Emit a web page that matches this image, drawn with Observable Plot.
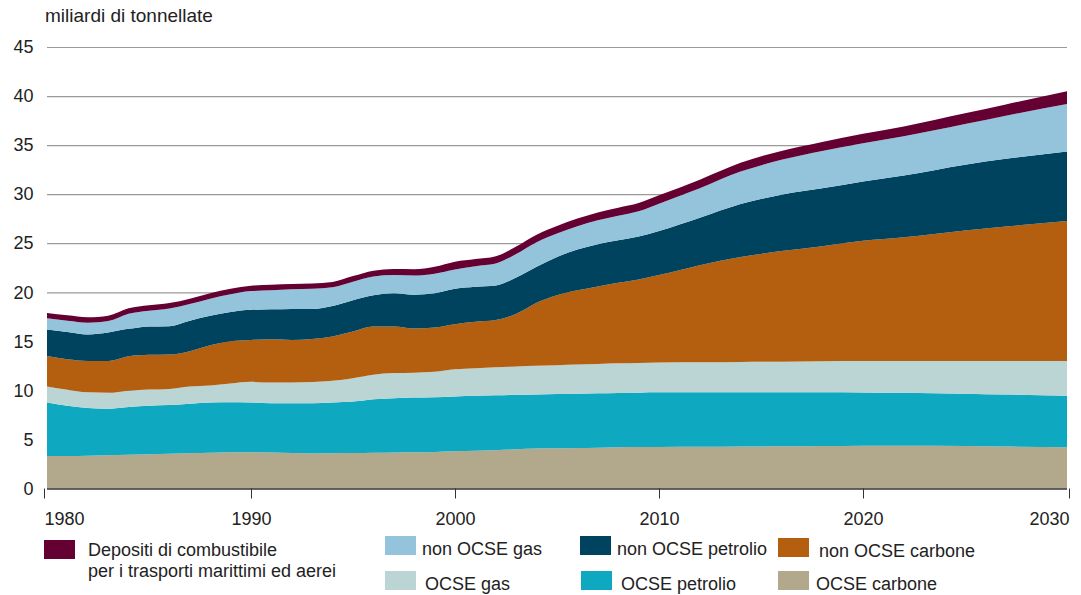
<!DOCTYPE html>
<html>
<head>
<meta charset="utf-8">
<script src="https://cdn.jsdelivr.net/npm/d3@7"></script>
<script src="https://cdn.jsdelivr.net/npm/@observablehq/plot@0.6"></script>
<style>
  html, body { margin: 0; padding: 0; background: #fff; }
  #wrap { position: relative; width: 1081px; height: 595px; overflow: hidden; font-family: "Liberation Sans", Arial, sans-serif; color: #222; }
  #title { position: absolute; left: 45px; top: 5px; font-size: 19px; line-height: 22px; white-space: nowrap; }
  #chart { position: absolute; left: 0; top: 0; }
  .sw { position: absolute; width: 31px; height: 19px; }
  .lt { position: absolute; font-size: 18px; line-height: 20.5px; white-space: nowrap; }
</style>
</head>
<body>
<div id="wrap">
  <div id="chart"></div>
  <div id="title">miliardi di tonnellate</div>
  <div id="legend"></div>
</div>
<script>
// ---- Data (miliardi di tonnellate) ----
const years = [1980,1981,1982,1983,1984,1985,1986,1987,1988,1989,
               1990,1991,1992,1993,1994,1995,1996,1997,1998,1999,
               2000,2001,2002,2003,2004,2005,2006,2007,2008,2009,
               2010,2012,2014,2016,2018,2020,2022,2025,2027,2030];

const ocseCarbone = [3.3,3.3,3.35,3.4,3.45,3.5,3.55,3.6,3.65,3.7,
                     3.7,3.68,3.62,3.58,3.6,3.62,3.65,3.68,3.7,3.73,
                     3.8,3.85,3.9,4.0,4.08,4.1,4.13,4.16,4.2,4.22,
                     4.24,4.25,4.28,4.3,4.33,4.37,4.37,4.33,4.28,4.2];

const ocsePetrolio = [5.47,5.13,4.85,4.73,4.85,4.93,4.95,5.04,5.12,5.1,
                      5.07,5.02,5.08,5.12,5.17,5.25,5.45,5.52,5.57,5.57,
                      5.58,5.6,5.6,5.55,5.51,5.52,5.52,5.54,5.54,5.55,
                      5.56,5.55,5.52,5.5,5.47,5.42,5.38,5.32,5.29,5.25];

const ocseGas = [1.63,1.63,1.6,1.62,1.67,1.65,1.65,1.76,1.73,1.9,
                 2.1,2.1,2.1,2.15,2.2,2.38,2.5,2.56,2.53,2.6,
                 2.77,2.81,2.86,2.88,2.91,2.94,2.98,3.0,3.02,3.03,
                 3.04,3.07,3.1,3.13,3.17,3.21,3.25,3.35,3.43,3.55];

const nonOcseCarbone = [3.1,3.12,3.2,3.25,3.5,3.54,3.5,3.6,4.1,4.3,
                        4.27,4.4,4.34,4.4,4.53,4.75,4.9,4.74,4.5,4.5,
                        4.6,4.74,4.81,5.37,6.43,7.14,7.57,7.9,8.21,8.5,
                        8.91,9.89,10.7,11.27,11.73,12.24,12.6,13.3,13.7,14.27];

const nonOcsePetrolio = [2.7,2.77,2.7,2.9,2.8,2.9,2.9,3.1,3.0,3.0,
                         3.08,3.06,3.16,3.05,3.1,3.2,3.2,3.4,3.45,3.5,
                         3.6,3.56,3.53,3.7,3.67,3.9,4.16,4.3,4.33,4.38,
                         4.5,4.84,5.4,5.75,5.9,6.06,6.3,6.7,6.9,7.08];

const nonOcseGas = [1.15,1.15,1.2,1.17,1.55,1.6,1.8,1.7,1.75,1.8,
                    1.9,1.94,2.0,2.05,1.9,1.87,1.9,1.85,1.95,2.0,
                    1.98,2.1,2.23,2.4,2.5,2.38,2.37,2.44,2.5,2.57,
                    2.78,3.0,3.3,3.55,3.8,3.9,4.0,4.15,4.4,4.85];

const bunkers = [0.55,0.55,0.55,0.55,0.55,0.55,0.55,0.55,0.55,0.55,
                 0.55,0.57,0.55,0.55,0.55,0.58,0.6,0.62,0.65,0.7,
                 0.78,0.72,0.75,0.76,0.76,0.77,0.78,0.8,0.82,0.85,
                 0.85,0.88,0.9,0.9,0.92,0.95,1.0,1.1,1.15,1.3];

// stack order: bottom to top
const seriesNames = ["OCSE carbone","OCSE petrolio","OCSE gas","non OCSE carbone","non OCSE petrolio","non OCSE gas","Depositi"];
const seriesValues = [ocseCarbone, ocsePetrolio, ocseGas, nonOcseCarbone, nonOcsePetrolio, nonOcseGas, bunkers];
const seriesColors = ["#b2a98c","#0ea9c1","#bad5d3","#b45f10","#00435e","#94c4dc","#650033"];

const yTicks = [0,5,10,15,20,25,30,35,40,45];
const xTicksMid = [1990,2000,2010,2020];

const data = seriesNames.flatMap((name, i) =>
  years.map((year, j) => ({year, series: name, value: seriesValues[i][j]})));

const font = "'Liberation Sans', Arial, sans-serif";

const chart = Plot.plot({
  width: 1081,
  height: 535,
  marginLeft: 47,
  marginRight: 14,
  marginTop: 47,
  marginBottom: 46.5,
  style: {fontFamily: font, fontSize: "18px", color: "#222", background: "transparent", overflow: "visible"},
  x: {domain: [1980, 2030]},
  y: {domain: [0, 45]},
  color: {domain: seriesNames, range: seriesColors},
  marks: [
    Plot.gridY(yTicks.slice(1), {stroke: "#9a9a9a", strokeOpacity: 1, strokeWidth: 1.2}),
    Plot.areaY(data, {x: "year", y: "value", fill: "series", order: seriesNames, curve: "monotone-x"}),
    Plot.ruleY([0], {stroke: "#333", strokeWidth: 1.5}),
    Plot.axisY(yTicks, {tickSize: 0, tickPadding: 14, label: null, fontSize: 18}),
    Plot.axisX(xTicksMid, {tickSize: 10, tickPadding: 13, label: null, tickFormat: d => String(d), stroke: "#333", fontSize: 18}),
    Plot.axisX([1980], {tickSize: 10, tickPadding: 13, label: null, tickFormat: d => String(d), stroke: "#333", textAnchor: "start", dx: -3, fontSize: 18}),
    Plot.axisX([2030], {tickSize: 10, tickPadding: 13, label: null, tickFormat: d => String(d), stroke: "#333", textAnchor: "end", dx: 2, fontSize: 18})
  ]
});
document.getElementById("chart").appendChild(chart);

// ---- Legend ----
const legendItems = [
  {name: "Depositi", label: "Depositi di combustibile<br>per i trasporti marittimi ed aerei", sx: 44, sy: 540, tx: 88, ty: 540},
  {name: "non OCSE gas", label: "non OCSE gas", sx: 385, sy: 536, tx: 422, ty: 538.5},
  {name: "OCSE gas", label: "OCSE gas", sx: 385, sy: 571, tx: 425, ty: 574.4},
  {name: "non OCSE petrolio", label: "non OCSE petrolio", sx: 580, sy: 536, tx: 617, ty: 538.5},
  {name: "OCSE petrolio", label: "OCSE petrolio", sx: 581, sy: 571, tx: 621, ty: 574.4},
  {name: "non OCSE carbone", label: "non OCSE carbone", sx: 778, sy: 538, tx: 819, ty: 540.5},
  {name: "OCSE carbone", label: "OCSE carbone", sx: 778, sy: 571, tx: 816, ty: 574.4}
];
const legend = document.getElementById("legend");
for (const it of legendItems) {
  const sw = document.createElement("div");
  sw.className = "sw";
  sw.style.left = it.sx + "px";
  sw.style.top = it.sy + "px";
  sw.style.background = seriesColors[seriesNames.indexOf(it.name)];
  legend.appendChild(sw);
  const t = document.createElement("div");
  t.className = "lt";
  t.style.left = it.tx + "px";
  t.style.top = it.ty + "px";
  t.innerHTML = it.label;
  legend.appendChild(t);
}
</script>
</body>
</html>
